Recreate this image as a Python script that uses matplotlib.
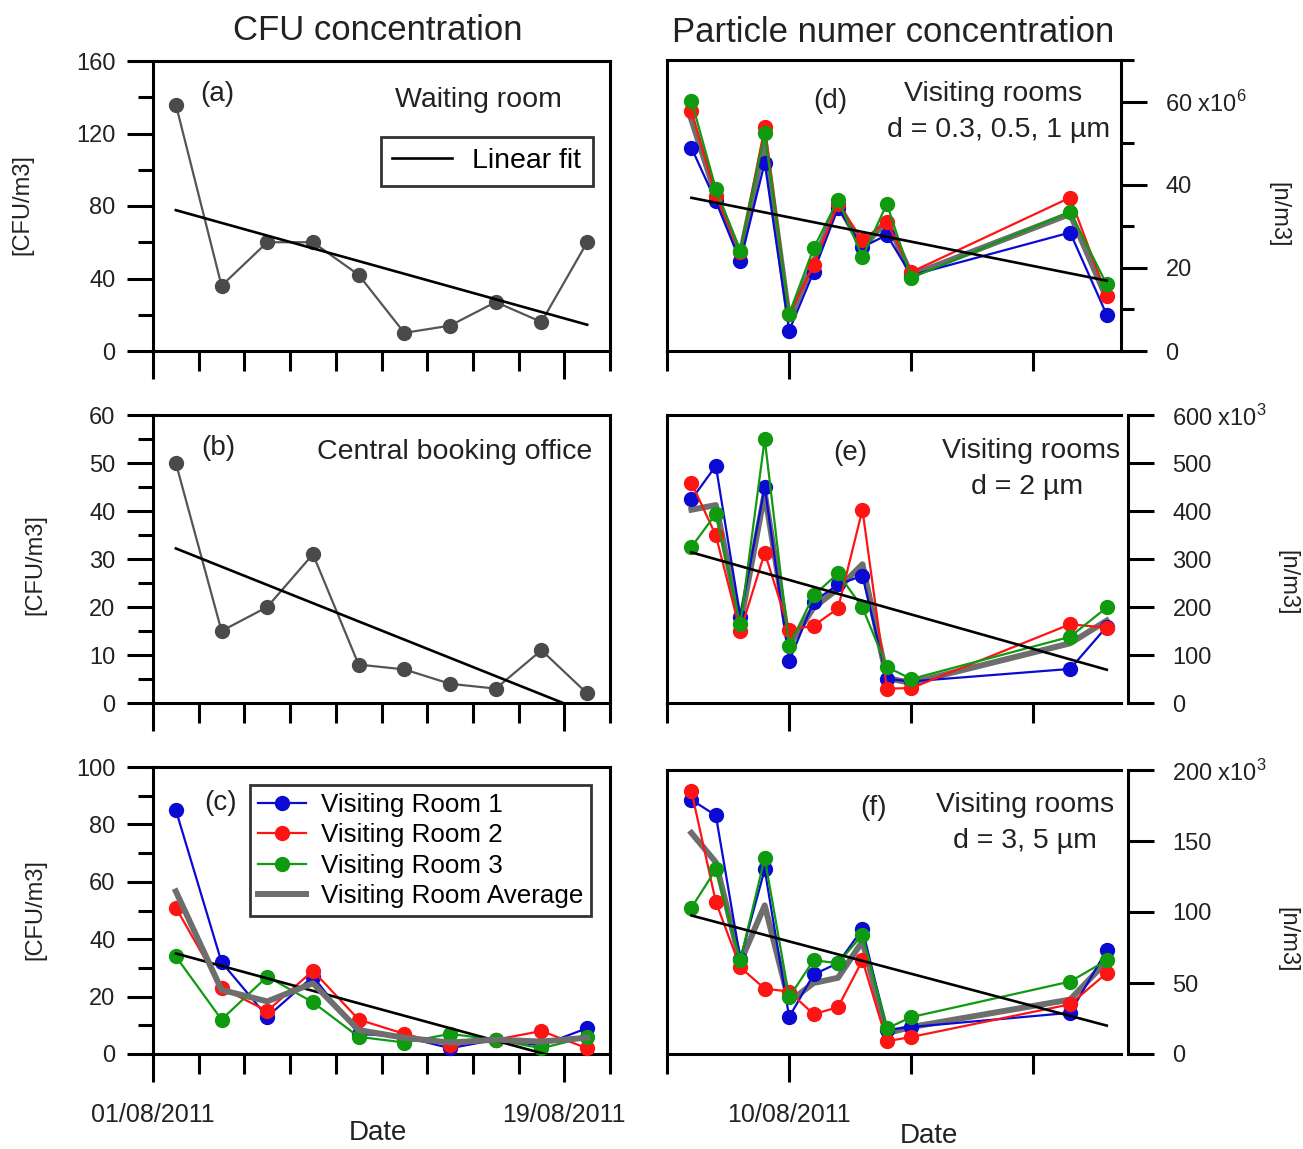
import matplotlib.pyplot as plt
import matplotlib.dates as mdates
import numpy as np
import pandas as pd

plt.rcParams['font.family'] = ['Liberation Sans', 'DejaVu Sans']

# CFU sampling days (left column)
cfu_dates = ['2011-08-02', '2011-08-04', '2011-08-06', '2011-08-08', '2011-08-10',
             '2011-08-12', '2011-08-14', '2011-08-16', '2011-08-18', '2011-08-20']
waiting_room = [136, 36, 60, 60, 42, 10, 14, 27, 16, 60]
booking_office = [50, 15, 20, 31, 8, 7, 4, 3, 11, 2]
cfu_room1 = [85, 32, 13, 27, 7, 6, 2, 5, 3, 9]
cfu_room2 = [51, 23, 15, 29, 12, 7, 3, 5, 8, 2]
cfu_room3 = [34, 12, 27, 18, 6, 4, 7, 5, 2, 6]

# particle counter days (right column)
pn_dates = ['2011-08-06 00:00', '2011-08-07 00:00', '2011-08-08 00:00', '2011-08-09 00:00',
            '2011-08-10 00:00', '2011-08-11 00:00', '2011-08-12 00:00', '2011-08-13 00:00',
            '2011-08-14 00:00', '2011-08-15 00:00', '2011-08-21 12:00', '2011-08-23 00:00']
# d = 0.3, 0.5, 1 um  (x10^6 n/m3)
pn1_room1 = [48.9, 36.0, 21.6, 45.3, 4.9, 19.0, 34.4, 25.0, 27.9, 18.2, 28.5, 8.7]
pn1_room2 = [57.8, 37.4, 23.8, 53.9, 8.9, 20.6, 35.4, 26.7, 31.1, 19.0, 36.9, 13.3]
pn1_room3 = [60.2, 39.0, 24.0, 52.5, 8.9, 24.7, 36.4, 22.6, 35.4, 17.6, 33.5, 16.0]
# d = 2 um  (x10^3 n/m3)
pn2_room1 = [424, 494, 180, 450, 87, 211, 247, 265, 50, 45, 71, 159]
pn2_room2 = [459, 349, 149, 313, 152, 161, 197, 403, 30, 31, 164, 157]
pn2_room3 = [325, 394, 164, 550, 119, 224, 270, 199, 75, 50, 138, 199]
# d = 3, 5 um  (x10^3 n/m3)
pn3_room1 = [179, 168, 67, 130, 26, 56, 64, 88, 17, 19, 29, 73]
pn3_room2 = [185, 107, 61, 46, 44, 28, 33, 66, 9, 12, 35, 57]
pn3_room3 = [103, 130, 66, 138, 40, 66, 64, 84, 18, 26, 51, 66]

BLUE = '#0a0ad2'
RED = '#ff1414'
GREEN = '#0f9a0f'
GREY = '#6e6e6e'
TXT = '#222222'


def linearFit(ax, x, y):
    xn = mdates.date2num(x)
    k, b = np.polyfit(xn, y, 1)
    ax.plot(x[[0, -1]], k * xn[[0, -1]] + b, color='black', lw=1.9, label='Linear fit', zorder=4)


def styleAxes(ax):
    for s in ax.spines.values():
        s.set_linewidth(2.2)
    ax.tick_params(which='both', width=2.2, colors='black', labelcolor=TXT, labelsize=17)
    ax.tick_params(axis='x', labelsize=18)


def leftPanel(ax, ylim, major, minor):
    styleAxes(ax)
    ax.set_xlim(pd.Timestamp('2011-08-01'), pd.Timestamp('2011-08-21'))
    ax.set_ylim(*ylim)
    ax.set_yticks(np.arange(ylim[0], ylim[1] + 1, major))
    ax.set_yticks(np.arange(ylim[0], ylim[1] + 1, minor), minor=True)
    ax.tick_params(axis='y', which='major', length=19, pad=8)
    ax.tick_params(axis='y', which='minor', length=10.5)
    xmaj = [pd.Timestamp('2011-08-01'), pd.Timestamp('2011-08-19')]
    ax.set_xticks(xmaj)
    ax.set_xticks(pd.date_range('2011-08-01', '2011-08-21', freq='2D'), minor=True)
    ax.tick_params(axis='x', which='major', length=20, pad=15)
    ax.tick_params(axis='x', which='minor', length=14.5)
    ax.set_xticklabels([])


def rightPanel(ax, ytop, ticks, minor, toplabel, offset):
    styleAxes(ax)
    ax.set_xlim(pd.Timestamp('2011-08-05'), pd.Timestamp('2011-08-23 14:00'))
    ax.set_ylim(0, ytop)
    ax.yaxis.tick_right()
    ax.spines['right'].set_position(('outward', offset))
    ax.set_yticks(ticks)
    labels = [str(t) for t in ticks]
    labels[-1] = toplabel
    ax.set_yticklabels(labels)
    if minor is not None:
        ax.set_yticks(minor, minor=True)
    ax.tick_params(axis='y', which='major', length=19, pad=13)
    ax.tick_params(axis='y', which='minor', length=9.5)
    ax.set_xticks([pd.Timestamp('2011-08-10')])
    ax.set_xticks(pd.to_datetime(['2011-08-05', '2011-08-15', '2011-08-20']), minor=True)
    ax.tick_params(axis='x', which='major', length=20, pad=15)
    ax.tick_params(axis='x', which='minor', length=14.5)
    ax.set_xticklabels([])


def roomLines(ax, x, r1, r2, r3, avg_on_top):
    z = 5 if avg_on_top else 2
    kw = dict(marker='o', markersize=10, lw=1.6, clip_on=False)
    ax.plot(x, r1, color=BLUE, label='Visiting Room 1', zorder=3, **kw)
    ax.plot(x, r2, color=RED, label='Visiting Room 2', zorder=3, **kw)
    ax.plot(x, r3, color=GREEN, label='Visiting Room 3', zorder=3, **kw)
    avg = (np.array(r1) + np.array(r2) + np.array(r3)) / 3.0
    ax.plot(x, avg, color=GREY, lw=4.3, label='Visiting Room Average', zorder=z)
    linearFit(ax, x, avg)


def plotFigure():
    fig = plt.figure(figsize=(13.03, 11.49), dpi=100)
    lx, lw = 153 / 1303, 457 / 1303
    rx, rw = 667 / 1303, 454 / 1303

    def box(x0, w, top, bottom):
        return [x0, 1 - bottom / 1149, w, (bottom - top) / 1149]

    axa = fig.add_axes(box(lx, lw, 61, 351))
    axb = fig.add_axes(box(lx, lw, 415, 703))
    axc = fig.add_axes(box(lx, lw, 767, 1054))
    axd = fig.add_axes(box(rx, rw, 60, 351))
    axe = fig.add_axes(box(rx, rw, 415, 703))
    axf = fig.add_axes(box(rx, rw, 770, 1054))

    xl = pd.to_datetime(cfu_dates)
    xr = pd.to_datetime(pn_dates)

    # (a) waiting room
    leftPanel(axa, (0, 160), 40, 20)
    axa.plot(xl, waiting_room, color='#555555', marker='o', markersize=10,
             markerfacecolor='#4a4a4a', markeredgecolor='#4a4a4a', lw=1.6, clip_on=False)
    linearFit(axa, xl, np.array(waiting_room, dtype=float))
    leg = axa.legend(handles=[axa.lines[-1]], loc='upper left', bbox_to_anchor=(0.499, 0.738),
                     fontsize=20.5, frameon=True, fancybox=False, edgecolor='black',
                     handlelength=2.1, handletextpad=0.7, borderpad=0.4, borderaxespad=0)
    leg.get_frame().set_linewidth(2.0)
    axa.text(0.140, 0.886, '(a)', transform=axa.transAxes, fontsize=20, color=TXT, ha='center', va='center')
    axa.text(0.895, 0.866, 'Waiting room', transform=axa.transAxes, fontsize=20.5, color=TXT, ha='right', va='center')

    # (b) central booking office
    leftPanel(axb, (0, 60), 10, 5)
    axb.plot(xl, booking_office, color='#555555', marker='o', markersize=10,
             markerfacecolor='#4a4a4a', markeredgecolor='#4a4a4a', lw=1.6, clip_on=False)
    linearFit(axb, xl, np.array(booking_office, dtype=float))
    axb.text(0.142, 0.885, '(b)', transform=axb.transAxes, fontsize=20, color=TXT, ha='center', va='center')
    axb.text(0.961, 0.872, 'Central booking office', transform=axb.transAxes, fontsize=20.5, color=TXT, ha='right', va='center')

    # (c) visiting rooms CFU
    leftPanel(axc, (0, 100), 20, 10)
    roomLines(axc, xl, cfu_room1, cfu_room2, cfu_room3, True)
    h = axc.lines[:4]
    leg = axc.legend(handles=h, loc='upper left', bbox_to_anchor=(0.212, 0.937),
                     fontsize=18.7, frameon=True, fancybox=False, edgecolor='black',
                     handlelength=1.85, handletextpad=0.6, labelspacing=0.25,
                     borderpad=0.3, borderaxespad=0)
    leg.get_frame().set_linewidth(2.0)
    axc.text(0.147, 0.875, '(c)', transform=axc.transAxes, fontsize=20, color=TXT, ha='center', va='center')
    axc.set_xticklabels(['01/08/2011', '19/08/2011'])

    # (d) 0.3-1 um
    rightPanel(axd, 70, [0, 20, 40, 60], [10, 30, 50, 70], r'60 x10$^\mathregular{6}$', 0)
    roomLines(axd, xr, pn1_room1, pn1_room2, pn1_room3, False)
    axd.text(0.359, 0.859, '(d)', transform=axd.transAxes, fontsize=20, color=TXT, ha='center', va='center')
    axd.text(0.718, 0.883, 'Visiting rooms', transform=axd.transAxes, fontsize=20.5, color=TXT, ha='center', va='center')
    axd.text(0.731, 0.759, 'd = 0.3, 0.5, 1 µm', transform=axd.transAxes, fontsize=20.5, color=TXT, ha='center', va='center')

    # (e) 2 um
    rightPanel(axe, 600, [0, 100, 200, 300, 400, 500, 600], None, r'600 x10$^\mathregular{3}$', 5)
    roomLines(axe, xr, pn2_room1, pn2_room2, pn2_room3, False)
    axe.text(0.403, 0.868, '(e)', transform=axe.transAxes, fontsize=20, color=TXT, ha='center', va='center')
    axe.text(0.802, 0.875, 'Visiting rooms', transform=axe.transAxes, fontsize=20.5, color=TXT, ha='center', va='center')
    axe.text(0.793, 0.750, 'd = 2 µm', transform=axe.transAxes, fontsize=20.5, color=TXT, ha='center', va='center')

    # (f) 3, 5 um
    rightPanel(axf, 200, [0, 50, 100, 150, 200], None, r'200 x10$^\mathregular{3}$', 5)
    roomLines(axf, xr, pn3_room1, pn3_room2, pn3_room3, False)
    axf.text(0.454, 0.866, '(f)', transform=axf.transAxes, fontsize=20, color=TXT, ha='center', va='center')
    axf.text(0.789, 0.877, 'Visiting rooms', transform=axf.transAxes, fontsize=20.5, color=TXT, ha='center', va='center')
    axf.text(0.789, 0.750, 'd = 3, 5 µm', transform=axf.transAxes, fontsize=20.5, color=TXT, ha='center', va='center')
    axf.set_xticklabels(['10/08/2011'])

    # column titles, axis titles and units
    fig.text(378 / 1303, 1 - 30 / 1149, 'CFU concentration', fontsize=25, color=TXT, ha='center', va='center')
    fig.text(893 / 1303, 1 - 32 / 1149, 'Particle numer concentration', fontsize=25, color=TXT, ha='center', va='center')
    fig.text(378 / 1303, 1 - 1133 / 1149, 'Date', fontsize=20, color=TXT, ha='center', va='center')
    fig.text(929 / 1303, 1 - 1136 / 1149, 'Date', fontsize=20, color=TXT, ha='center', va='center')
    for x, y in [(22, 205), (35, 565), (35, 910)]:
        fig.text(x / 1303, 1 - y / 1149, '[CFU/m3]', fontsize=17, color=TXT, rotation=90, ha='center', va='center')
    for x, y in [(1278, 215), (1287, 583), (1287, 940)]:
        fig.text(x / 1303, 1 - y / 1149, '[n/m3]', fontsize=17, color=TXT, rotation=-90, ha='center', va='center')

    fig.savefig('out.png', dpi=100)


if __name__ == "__main__":
    plotFigure()
